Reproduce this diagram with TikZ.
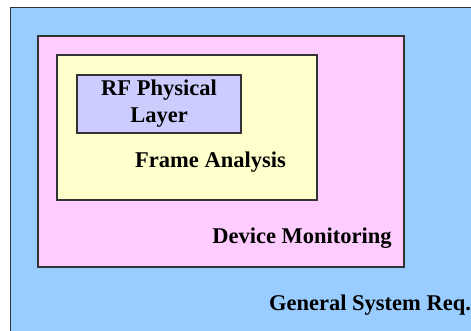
\documentclass[tikz,border=0pt]{standalone}
\usepackage{fontspec}
\setmainfont{Liberation Serif}
\usepackage{xcolor}
\usepackage{tikz}
\definecolor{sysblue}{RGB}{153,204,255}
\definecolor{devpink}{RGB}{255,204,255}
\definecolor{frameyellow}{RGB}{255,255,204}
\definecolor{rfpurple}{RGB}{204,204,255}
\definecolor{edgegray}{RGB}{51,51,51}

\begin{document}
\begin{tikzpicture}[x=1pt, y=-1pt, font=\fontsize{22.5}{27}\selectfont\bfseries,
  layerbox/.style={draw=edgegray, line width=1.1pt, rectangle, inner sep=0pt}]
\useasboundingbox (0,0) rectangle (471,331);
\node[layerbox, fill=sysblue, minimum width=480pt, minimum height=340pt, anchor=north west] (sys) at (10,7) {};
\node[layerbox, fill=devpink, minimum width=366pt, minimum height=231pt] (dev) at (221,151.5) {};
\node[layerbox, fill=frameyellow, minimum width=260pt, minimum height=145pt] (frame) at (187,127.5) {};
\node[layerbox, fill=rfpurple, minimum width=164pt, minimum height=58pt, align=center] (rf) at (159,104) {RF Physical\\Layer};
\node (framelbl) at (210.5,162) {Frame Analysis};
\node (devlbl) at (302,238) {Device Monitoring};
\node (syslbl) at (370,305) {General System Req.};
\end{tikzpicture}
\end{document}
